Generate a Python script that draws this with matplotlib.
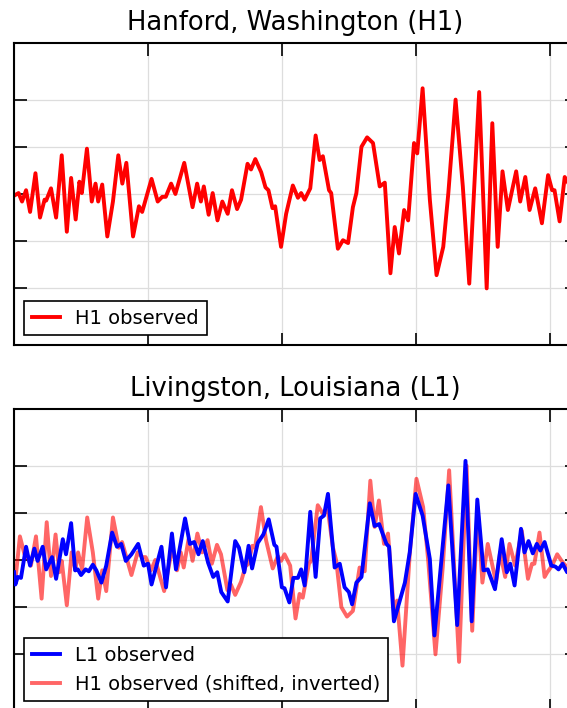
import numpy as np
import matplotlib
matplotlib.use("Agg")
import matplotlib.pyplot as plt

# GW150914 - whitened, band-passed strain (units of 1e-21), time in ms
h1_ms = [249.9, 251.7, 253.0, 254.5, 256.0, 258.0, 259.7, 261.4, 262.0, 263.8,
         265.7, 267.8, 269.7, 271.3, 273.0, 274.4, 275.3, 277.2, 279.0, 280.4,
         281.4, 282.9, 284.8, 286.9, 288.9, 290.4, 291.9, 294.4, 296.6, 297.8,
         301.3, 303.6, 305.3, 306.6, 308.6, 310.2, 313.5, 316.6, 318.3, 319.7,
         320.8, 322.6, 324.1, 325.9, 327.7, 329.7, 331.3, 333.2, 334.7, 337.1,
         338.4, 340.0, 342.2, 343.8, 344.9, 346.4, 347.4, 349.6, 351.5, 354.0,
         355.9, 357.1, 358.4, 360.5, 362.5, 364.0, 365.2, 367.5, 368.3, 370.8,
         372.7, 374.6, 376.4, 377.7, 379.6, 381.7, 383.9, 386.4, 388.3, 390.4,
         392.0, 393.6, 395.5, 397.0, 399.2, 400.4, 402.4, 405.1, 407.6, 410.1,
         412.0, 414.7, 417.4, 419.8, 423.5, 426.3, 428.4, 430.4, 432.2, 434.2,
         437.3, 438.8, 440.7, 442.3, 444.4, 446.9, 449.2, 450.7, 451.6, 453.5,
         455.4, 456.4, 458.2, 460.1, 462.0, 464.2]
h1_strain = [-0.02, 0.01, -0.08, 0.04, -0.19, 0.22, -0.25, -0.06, -0.07, 0.06,
             -0.25, 0.41, -0.40, 0.17, -0.27, 0.13, 0.01, 0.48, -0.08, 0.11,
             -0.08, 0.10, -0.45, -0.08, 0.41, 0.11, 0.33, -0.45, -0.13, -0.19,
             0.16, -0.08, -0.03, -0.03, 0.11, 0.00, 0.33, -0.14, 0.11, -0.08,
             0.08, -0.22, 0.01, -0.28, -0.08, -0.21, 0.04, -0.16, -0.06, 0.32,
             0.26, 0.37, 0.23, 0.07, 0.04, -0.15, -0.13, -0.56, -0.21, 0.09,
             -0.04, 0.01, -0.06, 0.06, 0.62, 0.36, 0.40, 0.04, 0.01, -0.58,
             -0.49, -0.52, -0.14, 0.01, 0.50, 0.60, 0.54, 0.08, 0.12, -0.84,
             -0.35, -0.63, -0.17, -0.28, 0.54, 0.43, 1.12, -0.06, -0.86, -0.56,
             0.01, 1.00, 0.08, -0.95, 1.08, -1.00, 0.75, -0.56, 0.24, -0.17,
             0.24, -0.08, 0.18, -0.17, 0.06, -0.31, 0.20, 0.04, 0.04, -0.29,
             0.18, 0.13, 0.06, -0.06, 0.02, 0.09]

l1_ms = [250.0, 250.5, 251.4, 252.6, 254.5, 256.0, 257.6, 258.8, 260.7, 262.0,
         264.2, 265.7, 268.2, 269.4, 271.3, 272.8, 273.8, 275.0, 276.7, 277.9,
         279.4, 280.7, 282.6, 284.4, 286.6, 288.4, 290.0, 291.7, 293.8, 296.3,
         298.4, 300.0, 301.3, 305.0, 306.7, 308.9, 310.4, 313.8, 315.6, 317.2,
         318.8, 320.4, 322.4, 324.3, 325.8, 327.3, 329.7, 332.5, 333.9, 335.9,
         337.5, 338.8, 340.9, 343.0, 345.0, 347.1, 347.9, 349.9, 350.9, 352.7,
         354.2, 355.9, 357.1, 358.4, 360.5, 362.5, 364.2, 365.6, 367.1, 369.6,
         371.5, 373.3, 374.9, 376.1, 377.7, 379.6, 382.7, 384.5, 386.2, 388.9,
         389.9, 391.7, 393.3, 395.8, 397.6, 399.8, 402.4, 405.1, 406.8, 412.0,
         415.3, 418.4, 420.7, 422.8, 425.1, 426.7, 429.4, 431.9, 433.8, 435.1,
         436.7, 439.1, 440.4, 441.9, 443.5, 445.0, 446.3, 447.9, 450.4, 451.9,
         453.1, 454.6, 456.3, 460.1]
l1_strain = [-0.13, -0.26, -0.18, -0.19, 0.14, -0.06, 0.12, -0.01, 0.14, -0.10,
             0.03, -0.20, 0.22, 0.06, 0.39, -0.11, -0.10, -0.16, -0.10, -0.12,
             -0.05, -0.11, -0.24, -0.06, 0.29, 0.14, 0.17, -0.01, 0.06, 0.17,
             -0.06, -0.04, -0.26, 0.14, -0.29, 0.28, -0.10, 0.44, 0.17, 0.19,
             0.06, 0.20, -0.03, -0.18, -0.13, -0.34, -0.44, 0.20, 0.13, -0.13,
             0.15, -0.09, 0.18, 0.27, 0.43, 0.16, 0.14, -0.29, -0.30, -0.45,
             -0.19, -0.19, -0.10, -0.27, 0.51, -0.18, 0.44, 0.47, 0.70, -0.08,
             -0.04, -0.29, -0.34, -0.47, -0.24, -0.18, 0.60, 0.36, 0.38, 0.17,
             0.14, -0.65, -0.49, -0.24, 0.08, 0.70, 0.47, 0.01, -0.80, 0.79,
             -0.69, 1.05, -0.65, 0.64, -0.11, -0.10, -0.31, 0.22, -0.13, -0.04,
             -0.27, 0.33, 0.08, 0.20, 0.07, 0.17, 0.10, 0.19, -0.06, -0.07,
             -0.10, -0.04, -0.13, -0.07]

shift_s = 0.0075  # H1 shifted earlier and sign-flipped to overlay on L1

t_h1 = np.array(h1_ms) / 1000.0
t_l1 = np.array(l1_ms) / 1000.0
h1 = np.array(h1_strain)
l1 = np.array(l1_strain)

fig = plt.figure(figsize=(5.67, 7.08), dpi=100)
ax1 = fig.add_axes([0.0247, 0.5127, 0.993, 0.4266])
ax2 = fig.add_axes([0.0247, -0.0042, 0.993, 0.4266])

ax1.plot(t_h1, h1, color='r', lw=2.8, solid_joinstyle='round', label='H1 observed')
ax1.set_title('Hanford, Washington (H1)', fontsize=18.6, pad=9)

ax2.plot(t_l1, l1, color='b', lw=2.8, solid_joinstyle='round', zorder=3,
         label='L1 observed')
ax2.plot(t_h1 - shift_s, -h1, color='r', lw=2.8, alpha=0.6, solid_joinstyle='round',
         zorder=2, label='H1 observed (shifted, inverted)')
ax2.set_title('Livingston, Louisiana (L1)', fontsize=18.6, pad=9)

for ax in (ax1, ax2):
    ax.set_xlim(0.25, 0.46)
    ax.set_ylim(-1.6, 1.6)
    ax.set_xticks([0.25, 0.30, 0.35, 0.40, 0.45])
    ax.set_yticks([-1.0, -0.5, 0.0, 0.5, 1.0])
    ax.tick_params(direction='in', length=9, width=1.2, top=True, right=True,
                   labelleft=False, labelbottom=False)
    ax.grid(True, color='#dddddd', lw=0.9)
    ax.set_axisbelow(True)
    for s in ax.spines.values():
        s.set_linewidth(1.5)
    leg = ax.legend(loc='lower left', fontsize=14, handlelength=1.45,
                    fancybox=False, framealpha=1, edgecolor='black')
    leg.get_frame().set_linewidth(1.2)

fig.savefig('out.png', dpi=100)
